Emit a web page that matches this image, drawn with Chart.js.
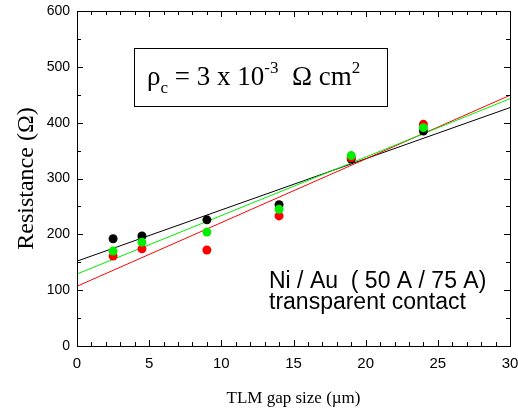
<!DOCTYPE html>
<html>
<head>
<meta charset="utf-8">
<script src="https://cdn.jsdelivr.net/npm/chart.js@4.4.0/dist/chart.umd.min.js"></script>
<style>
  html, body { margin: 0; padding: 0; background: #fff; }
  #wrap { width: 518px; height: 410px; }
</style>
</head>
<body>
<div id="wrap"><canvas id="tlm" width="518" height="410"></canvas></div>
<script>
// TLM gap sizes (um) and measured resistances (ohm), three samples
const gapSizes = [2.5, 4.5, 9, 14, 19, 24];
const resBlack = [192, 197, 226, 253, 335, 385];
const resRed = [161, 174, 172, 233, 337, 397];
const resGreen = [170, 186, 204, 245, 341, 391];

// linear fit lines, read at both ends of the x range
const fitX = [0, 30];
const fitBlack = [152, 427];
const fitRed = [107, 449];
const fitGreen = [129, 443];

const xMin = 0, xMax = 30, xStep = 5;
const yMin = 0, yMax = 600, yStep = 100;

const toPoints = (xs, ys) => xs.map((x, i) => ({ x: x, y: ys[i] }));

function pointSet(label, values, color, order) {
  return {
    type: 'scatter',
    label: label,
    data: toPoints(gapSizes, values),
    backgroundColor: color,
    borderColor: color,
    borderWidth: 0,
    pointRadius: 4.5,
    order: order
  };
}

function fitSet(label, values, color, order) {
  return {
    type: 'line',
    label: label,
    data: toPoints(fitX, values),
    borderColor: color,
    borderWidth: 1,
    pointRadius: 0,
    fill: false,
    order: order
  };
}

// frame, inward ticks, axis titles and annotations
const decorations = {
  id: 'decorations',
  afterDraw(chart) {
    const ctx = chart.ctx;
    const a = chart.chartArea;
    const xs = chart.scales.x;
    const ys = chart.scales.y;
    ctx.save();
    ctx.strokeStyle = '#000';
    ctx.lineWidth = 1;
    ctx.strokeRect(Math.round(a.left) + 0.5, Math.round(a.top) + 0.5,
      Math.round(a.right - a.left), Math.round(a.bottom - a.top));

    ctx.beginPath();
    for (let v = xMin; v <= xMax; v += 1) {
      const px = Math.round(xs.getPixelForValue(v)) + 0.5;
      const len = v % xStep === 0 ? 6 : 4;
      ctx.moveTo(px, a.bottom); ctx.lineTo(px, a.bottom - len);
      ctx.moveTo(px, a.top); ctx.lineTo(px, a.top + len);
    }
    for (let v = yMin; v <= yMax; v += yStep / 2) {
      const py = Math.round(ys.getPixelForValue(v)) + 0.5;
      const len = v % yStep === 0 ? 6 : 4;
      ctx.moveTo(a.left, py); ctx.lineTo(a.left + len, py);
      ctx.moveTo(a.right, py); ctx.lineTo(a.right - len, py);
    }
    ctx.stroke();

    // axis titles
    ctx.fillStyle = '#000';
    ctx.font = '17px "Liberation Serif", "Times New Roman", serif';
    ctx.textAlign = 'center';
    ctx.textBaseline = 'alphabetic';
    ctx.fillText('TLM gap size (\u00b5m)', (a.left + a.right) / 2, 403);

    ctx.save();
    ctx.translate(33, (a.top + a.bottom) / 2);
    ctx.rotate(-Math.PI / 2);
    ctx.font = '24px "Liberation Serif", "Times New Roman", serif';
    ctx.fillText('Resistance (\u03a9)', 0, 0);
    ctx.restore();

    // contact resistivity box
    ctx.strokeRect(134.5, 48.5, 253, 58);
    const big = '27px "Liberation Serif", "Times New Roman", serif';
    const small = '17px "Liberation Serif", "Times New Roman", serif';
    const parts = [
      ['\u03c1', big, 0],
      ['c', small, 8],
      [' = 3 x 10', big, 0],
      ['-3', small, -12],
      ['  \u03a9 cm', big, 0],
      ['2', small, -12]
    ];
    ctx.textAlign = 'left';
    let tx = 147;
    parts.forEach(p => {
      ctx.font = p[1];
      ctx.fillText(p[0], tx, 85 + p[2]);
      tx += ctx.measureText(p[0]).width;
    });

    // sample label
    ctx.font = '23px "Liberation Sans", Arial, sans-serif';
    ctx.fillText('Ni / Au  ( 50 A / 75 A)', 269, 288);
    ctx.fillText('transparent contact', 269, 309);
    ctx.restore();
  }
};

new Chart(document.getElementById('tlm'), {
  data: {
    datasets: [
      pointSet('black', resBlack, '#000000', 3),
      pointSet('red', resRed, '#ff0000', 2),
      pointSet('green', resGreen, '#00ee00', 1),
      fitSet('fit black', fitBlack, '#000000', 6),
      fitSet('fit red', fitRed, '#ff0000', 5),
      fitSet('fit green', fitGreen, '#00ee00', 4)
    ]
  },
  options: {
    responsive: false,
    animation: false,
    devicePixelRatio: 1,
    layout: { padding: { top: 11, right: 8, left: 0, bottom: 0 } },
    plugins: {
      legend: { display: false },
      tooltip: { enabled: false }
    },
    scales: {
      x: {
        type: 'linear',
        min: xMin,
        max: xMax,
        grid: { display: false, drawTicks: false },
        border: { display: false },
        ticks: {
          stepSize: xStep,
          color: '#000',
          padding: 9,
          maxRotation: 0,
          font: { family: '"Liberation Sans", Arial, sans-serif', size: 15 }
        },
        afterFit(scale) {
          scale.height = 64;
          scale.paddingLeft = 0;
          scale.paddingRight = 0;
        }
      },
      y: {
        type: 'linear',
        min: yMin,
        max: yMax,
        grid: { display: false, drawTicks: false },
        border: { display: false },
        ticks: {
          stepSize: yStep,
          color: '#000',
          padding: 7,
          font: { family: '"Liberation Sans", Arial, sans-serif', size: 14 }
        },
        afterFit(scale) {
          scale.width = 77;
          scale.paddingTop = 0;
          scale.paddingBottom = 0;
        }
      }
    }
  },
  plugins: [decorations]
});
</script>
</body>
</html>
